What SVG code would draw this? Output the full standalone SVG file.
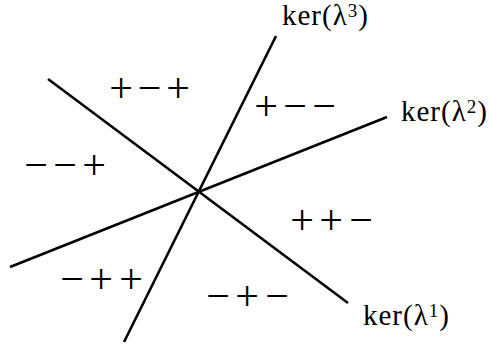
<svg xmlns="http://www.w3.org/2000/svg" width="489" height="349" viewBox="0 0 489 349">
<style>
.ln{stroke:#000;stroke-width:2.6;stroke-linecap:butt;fill:none}
.sg{font-family:"Liberation Serif","DejaVu Serif",serif;font-size:42px;text-anchor:middle;fill:#000}
.lb{font-family:"Liberation Serif","DejaVu Serif",serif;font-size:29px;letter-spacing:1px;fill:#000}
.sup{font-size:19px}
</style>
<rect width="489" height="349" fill="#fff"/>
<g id="connectors">
<line class="ln" x1="48" y1="79" x2="348" y2="303"/>
<line class="ln" x1="10" y1="267" x2="387" y2="117"/>
<line class="ln" x1="124" y1="342" x2="276" y2="36"/>
</g>
<g id="kerl1"><text class="lb" x="363" y="325">ker(λ<tspan class="sup" dy="-8">1</tspan><tspan dy="8">)</tspan></text></g>
<g id="kerl2"><text class="lb" x="401" y="121">ker(λ<tspan class="sup" dy="-8">2</tspan><tspan dy="8">)</tspan></text></g>
<g id="kerl3"><text class="lb" x="282" y="25">ker(λ<tspan class="sup" dy="-8">3</tspan><tspan dy="8">)</tspan></text></g>
<g id="r1"><text class="sg" x="121 149.5 178" y="101.5">+−+</text></g>
<g id="r2"><text class="sg" x="266 295 324" y="119.5">+−−</text></g>
<g id="r3"><text class="sg" x="36 65 94" y="178.5">−−+</text></g>
<g id="r4"><text class="sg" x="72 101 131" y="292.5">−++</text></g>
<g id="r5"><text class="sg" x="302 331 361" y="233.5">++−</text></g>
<g id="r6"><text class="sg" x="218 247 277" y="309.5">−+−</text></g>
</svg>
